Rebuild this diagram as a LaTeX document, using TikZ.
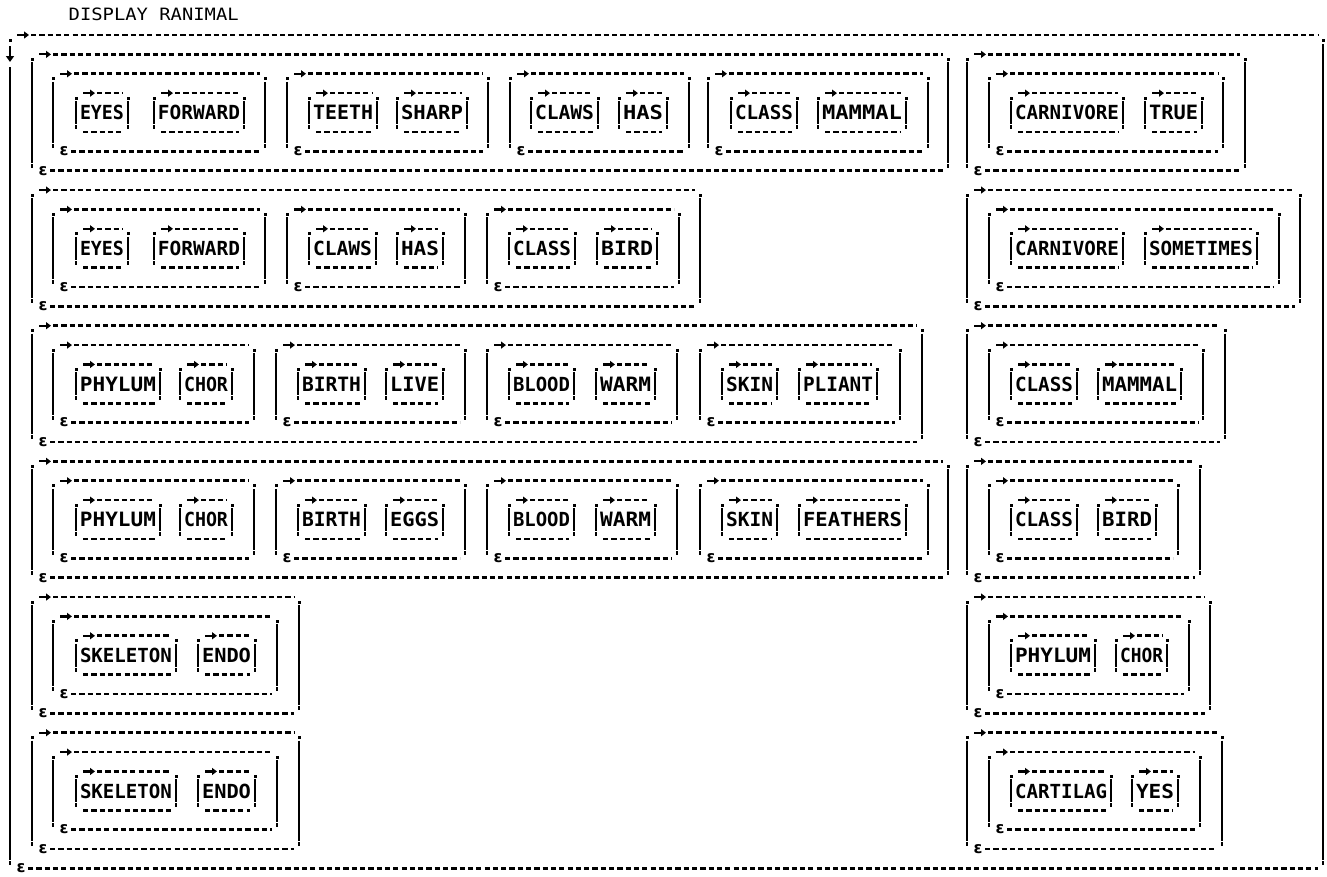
\documentclass[tikz,border=0pt]{standalone}
\usepackage{fontspec}
\setmonofont{DejaVu Sans Mono}
\newfontfamily\epsfont{DejaVu Sans}
\usetikzlibrary{arrows.meta}
\tikzset{
  hl/.style={line width=2.6pt, dash pattern=on 5.2pt off 3.1pt},
  vl/.style={line width=2.8pt},
  arr/.style={line width=2.2pt, -{Triangle[length=5pt,width=7pt]}},
  lab/.style={inner sep=0pt, anchor=base},
  epsn/.style={font=\epsfont\bfseries\fontsize{16}{16}\selectfont, inner sep=0pt},
}
\newcounter{lbc}
% frame: x1 x2 ntop nbot eps
\newcommand\frameb[5]{%
  \pgfmathsetmacro\yt{-(35+19.38*(#3))}%
  \pgfmathsetmacro\yb{-(35+19.38*(#4))}%
  \draw[arr] (#1+7,\yt) -- (#1+19,\yt);
  \draw[hl] (#1+21,\yt) -- (#2-5,\yt);
  \fill (#1-1.5,\yt-3.5) rectangle ++(3,-3);
  \fill (#2-1.5,\yt-3.5) rectangle ++(3,-3);
  \draw[vl] (#1,\yt-8) -- (#1,\yb+8);
  \draw[vl] (#2,\yt-8) -- (#2,\yb+8);
  \fill (#1-1.3,\yb+3) rectangle ++(2.6,4);
  \fill (#2-1.3,\yb+3) rectangle ++(2.6,4);
  \ifnum#5=1
    \stepcounter{lbc}\node[epsn] (e\thelbc) at (#1+11,\yb) {ε};
    \draw[hl] (#1+18,\yb) -- (#2-5,\yb);
  \else
    \draw[hl] (#1+7,\yb) -- (#2-5,\yb);
  \fi
}
% string box: x1 x2 ntop text
\newcommand\strb[4]{%
  \frameb{#1}{#2}{#3}{#3+2}{0}%
  \pgfmathsetmacro\ym{-(35+19.38*(#3+1))-7.2}%
  \pgfmathsetmacro\ww{#2-#1-8}%
  \stepcounter{lbc}%
  \node[lab] (t\thelbc) at ({(#1+#2)/2},\ym) {\resizebox{\ww pt}{14.4pt}{\ttfamily\bfseries #4}};
}
% pair box: L2 x1 x2 ntop, a1 a2 texta, b1 b2 textb
\newcommand\pairb[9]{%
  \frameb{#1}{#2}{#3}{#3+4}{1}%
  \strb{#4}{#5}{#3+1}{#6}%
  \strb{#7}{#8}{#3+1}{#9}%
}
\begin{document}
\begin{tikzpicture}[x=1pt,y=1pt]
\fill[white] (0,0) rectangle (1327,-876);
\useasboundingbox (0,0) rectangle (1327,-876);
\node[anchor=base west, inner sep=0pt] (title) at (68.5,-20.7) {\resizebox{170pt}{12.6pt}{\ttfamily DISPLAY RANIMAL}};
% outer matrix frame
\coordinate (otl) at (10,-35);
\coordinate (obl) at (10,-868.3);
\draw[arr] (17,-35) -- (29,-35);
\draw[hl] (31,-35) -- (1318,-35);
\fill (8.5,-38.5) rectangle ++(3,-3);
\fill (1321.5,-38.5) rectangle ++(3,-3);
\draw[line width=2.4pt, -{Triangle[length=6pt,width=8pt]}] (10,-46) -- (10,-62);
\draw[vl] (10,-67) -- (10,-860);
\draw[vl] (1323,-44) -- (1323,-860);
\fill (8.7,-865.3) rectangle ++(2.6,4);
\fill (1321.7,-865.3) rectangle ++(2.6,4);
\node[epsn] (eo) at (21,-868.3) {ε};
\draw[hl] (28,-868.3) -- (1318,-868.3);
% row 1
\frameb{32}{948}{1}{7}{1}
\pairb{53}{265}{2}{76}{128}{EYES}{154}{244}{FORWARD}
\pairb{287}{488}{2}{309}{377}{TEETH}{397}{467}{SHARP}
\pairb{510}{689}{2}{531}{598}{CLAWS}{619}{667}{HAS}
\pairb{708}{928}{2}{731}{797}{CLASS}{818}{906}{MAMMAL}
\frameb{967}{1245}{1}{7}{1}
\pairb{989}{1223}{2}{1011}{1123}{CARNIVORE}{1145}{1202}{TRUE}
% row 2
\frameb{32}{700}{8}{14}{1}
\pairb{53}{265}{9}{76}{128}{EYES}{154}{244}{FORWARD}
\pairb{287}{465}{9}{309}{376}{CLAWS}{397}{443}{HAS}
\pairb{487}{679}{9}{509}{575}{CLASS}{597}{657}{BIRD}
\frameb{967}{1300}{8}{14}{1}
\pairb{989}{1279}{9}{1011}{1123}{CARNIVORE}{1145}{1257}{SOMETIMES}
% row 3
\frameb{32}{922}{15}{21}{1}
\pairb{53}{254}{16}{76}{160}{PHYLUM}{180}{232}{CHOR}
\pairb{276}{465}{16}{298}{365}{BIRTH}{386}{443}{LIVE}
\pairb{487}{677}{16}{509}{574}{BLOOD}{596}{655}{WARM}
\pairb{700}{900}{16}{722}{777}{SKIN}{799}{877}{PLIANT}
\frameb{967}{1225}{15}{21}{1}
\pairb{989}{1203}{16}{1011}{1077}{CLASS}{1098}{1181}{MAMMAL}
% row 4
\frameb{32}{948}{22}{28}{1}
\pairb{53}{254}{23}{76}{160}{PHYLUM}{180}{232}{CHOR}
\pairb{276}{465}{23}{298}{365}{BIRTH}{386}{443}{EGGS}
\pairb{487}{677}{23}{509}{574}{BLOOD}{596}{655}{WARM}
\pairb{700}{928}{23}{722}{777}{SKIN}{799}{906}{FEATHERS}
\frameb{967}{1200}{22}{28}{1}
\pairb{989}{1178}{23}{1011}{1077}{CLASS}{1098}{1156}{BIRD}
% row 5
\frameb{32}{299}{29}{35}{1}
\pairb{53}{277}{30}{76}{176}{SKELETON}{198}{255}{ENDO}
\frameb{967}{1210}{29}{35}{1}
\pairb{989}{1189}{30}{1011}{1095}{PHYLUM}{1116}{1167}{CHOR}
% row 6
\frameb{32}{299}{36}{42}{1}
\pairb{53}{277}{37}{76}{176}{SKELETON}{198}{255}{ENDO}
\frameb{967}{1222}{36}{42}{1}
\pairb{989}{1200}{37}{1011}{1111}{CARTILAG}{1132}{1178}{YES}
\end{tikzpicture}
\end{document}
